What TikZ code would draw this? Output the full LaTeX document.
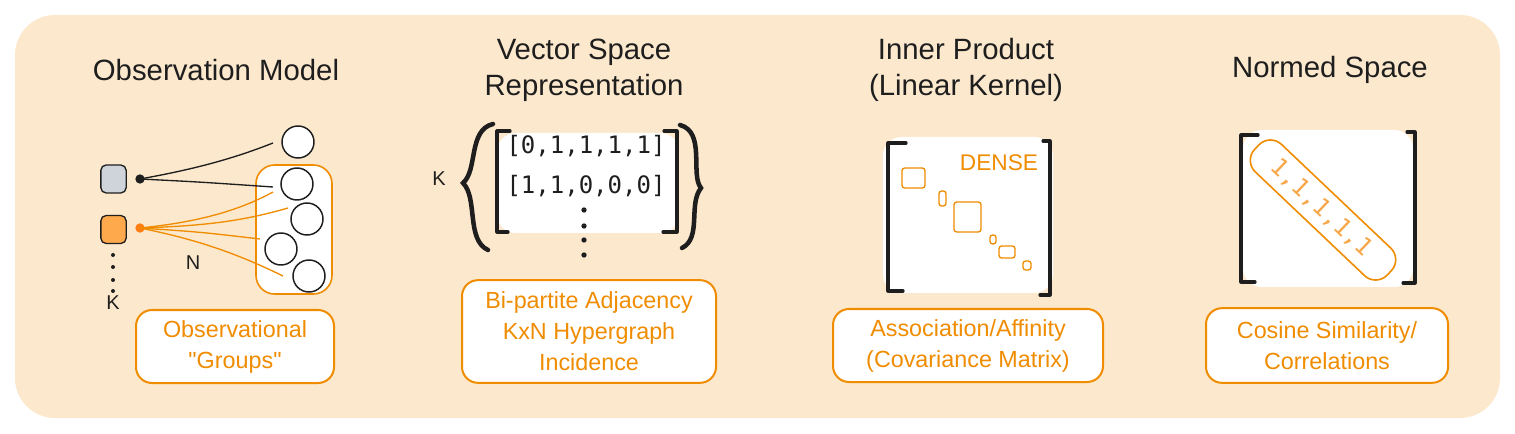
\documentclass[tikz,border=0pt]{standalone}
\usepackage{fontspec}
\setmainfont{Liberation Sans}
\newfontfamily\qfont{Liberation Sans}[Ligatures=TeXOff]
\newfontfamily\monof{DejaVu Sans Mono}
\definecolor{bg}{RGB}{252,232,205}
\definecolor{orgstroke}{HTML}{F08C00}
\definecolor{orglight}{HTML}{F7A648}
\definecolor{orgfill}{HTML}{FFA94D}
\definecolor{grayfill}{HTML}{CED4DA}
\definecolor{ink}{HTML}{1E1E1E}
\definecolor{dotorange}{HTML}{FD7E14}
\begin{document}
\begin{tikzpicture}[x=0.75pt,y=-0.75pt,
  title/.style={font=\fontsize{22}{27}\selectfont, text=ink, align=center},
  labelbox/.style={draw=orgstroke, line width=1.5pt, fill=white, rounded corners=12pt, text=orgstroke, align=center, font=\fontsize{17.5}{23.25}\selectfont, inner sep=0pt},
  blob/.style={fill=white, rounded corners=14pt},
  bracket/.style={draw=ink, line width=2.4pt, line cap=round, line join=round},
  matrow/.style={font=\monof\fontsize{18}{22}\selectfont, text=ink},
  sq/.style={draw=ink, line width=1pt, rounded corners=4pt, minimum width=19pt, minimum height=21pt, inner sep=0pt},
  circ/.style={circle, draw=ink, line width=1.1pt, fill=white, minimum size=24pt, inner sep=0pt},
  blink/.style={draw=ink, line width=1pt},
  olink/.style={draw=orgstroke, line width=1pt},
  small/.style={font=\fontsize{15}{17}\selectfont, text=ink},
  hdot/.style={circle, fill=ink, inner sep=0pt, minimum size=3pt},
  smallrect/.style={draw=orgstroke, line width=1pt, rounded corners=2pt}
]
\useasboundingbox (0,0) rectangle (1515,434);
\fill[white] (0,0) rectangle (1515,434);
\fill[bg, rounded corners=30pt] (15,15) rectangle (1500,418);

% ---------------- Panel 1 ----------------
\node[title] (t1) at (216,70) {Observation Model};
\node[sq, fill=grayfill] (g1) at (113.5,179) {};
\node[sq, fill=orgfill] (g2) at (113.5,229.5) {};
\node[circle, fill=ink, inner sep=0pt, minimum size=7pt] (d1) at (140,179) {};
\node[circle, fill=dotorange, inner sep=0pt, minimum size=7pt] (d2) at (140,228) {};
\node[circ] (c0) at (298,142) {};
\draw[draw=orgstroke, line width=1.2pt, fill=white, rounded corners=14pt] (256,165) rectangle (332,294);
\node[circ] (c1) at (297,184) {};
\node[circ] (c2) at (307,219) {};
\node[circ] (c3) at (281,249) {};
\node[circ] (c4) at (309,276) {};
\coordinate (e0) at (273,143);
\coordinate (e1) at (273,187);
\coordinate (o1) at (273,192);
\coordinate (o2) at (288,208);
\coordinate (o3) at (260,239);
\coordinate (o4) at (283,276);
\draw[blink] (d1.center) .. controls (190,170) and (230,160) .. (e0);
\draw[blink] (d1.center) .. controls (200,182) .. (e1);
\draw[olink] (d2.center) .. controls (200,222) and (240,210) .. (o1);
\draw[olink] (d2.center) .. controls (200,226) and (240,222) .. (o2);
\draw[olink] (d2.center) .. controls (200,232) .. (o3);
\draw[olink] (d2.center) .. controls (200,240) and (240,255) .. (o4);
\node[hdot] (k1) at (113,255) {};
\node[hdot] (k2) at (113,267) {};
\node[hdot] (k3) at (113,280) {};
\node[hdot] (k4) at (113,291) {};
\node[small] (kl1) at (113,303) {K};
\node[small] (nl) at (193,263) {N};
\node[labelbox, minimum width=148.5pt, minimum height=54.75pt] (l1) at (235,346.5) {Observational\\{\qfont"}Groups{\qfont"}};

% ---------------- Panel 2 ----------------
\node[title] (t2) at (584,70) {Vector Space\\Representation};
\fill[blob] (497,133) rectangle (679,233);
\draw[bracket] (510,131) -- (497,131) -- (497,232) -- (508,232);
\draw[bracket] (664,131) -- (677,131) -- (677,232) -- (663,232);
\node[matrow] (r1) at (586,146) {[0,1,1,1,1]};
\node[matrow] (r2) at (586,186) {[1,1,0,0,0]};
\node[hdot, minimum size=4pt] (v1) at (584,210) {};
\node[hdot, minimum size=4pt] (v2) at (584,226) {};
\node[hdot, minimum size=4pt] (v3) at (584,240) {};
\node[hdot, minimum size=4pt] (v4) at (584,255) {};
\node[small] (kl2) at (439,179) {K};
\draw[draw=ink, line width=3.4pt, line cap=round] (493,124) .. controls (468,130) and (478,170) .. (463,183) .. controls (478,198) and (466,240) .. (488,250);
\draw[draw=ink, line width=3.4pt, line cap=round] (680,125) .. controls (706,132) and (690,175) .. (701,188) .. controls (688,204) and (702,238) .. (682,248);
\node[labelbox, minimum width=190.5pt, minimum height=77pt] (l2) at (589,331.5) {Bi-partite Adjacency\\KxN Hypergraph\\Incidence};

% ---------------- Panel 3 ----------------
\node[title] (t3) at (966,70) {Inner Product\\(Linear Kernel)};
\fill[blob] (883,137) rectangle (1053,293);
\draw[bracket] (906,143) -- (888,143) -- (888,291) -- (903,291);
\draw[bracket] (1043,141) -- (1050,141) -- (1050,295) -- (1040,295);
\node[font=\fontsize{17}{20}\selectfont, text=orgstroke] (dense) at (999,163) {DENSE};
\draw[smallrect] (902,168) rectangle (925,188);
\draw[smallrect] (939,191) rectangle (946,206);
\draw[smallrect] (954,202) rectangle (981,232);
\draw[smallrect] (990,235) rectangle (996,244);
\draw[smallrect] (999,246) rectangle (1015,258);
\draw[smallrect] (1023,261) rectangle (1031,270);
\node[labelbox, minimum width=202.5pt, minimum height=54.75pt] (l3) at (968,345.5) {Association/Affinity\\(Covariance Matrix)};

% ---------------- Panel 4 ----------------
\node[title] (t4) at (1330,70) {Normed Space};
\fill[blob] (1243,130) rectangle (1413,287);
\draw[bracket] (1258,135) -- (1241,135) -- (1241,282) -- (1255,282);
\draw[bracket] (1407,132) -- (1415,132) -- (1415,283) -- (1403,283);
\node[draw=orgstroke, line width=1.2pt, rounded corners=12pt, minimum width=137pt, minimum height=28.5pt, rotate=-43.5] (diag) at (1323,210) {};
\node[font=\monof\fontsize{18}{20}\selectfont, text=orglight, rotate=-43.5] (ones) at (1321,208) {1,1,1,1,1};
\node[labelbox, minimum width=181.5pt, minimum height=56pt] (l4) at (1327,345.5) {Cosine Similarity/\\Correlations};
\end{tikzpicture}
\end{document}
